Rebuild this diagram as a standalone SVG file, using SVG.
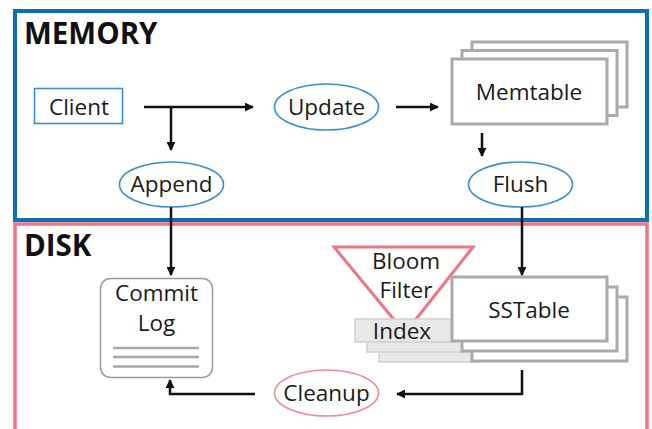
<svg xmlns="http://www.w3.org/2000/svg" width="652" height="429" viewBox="0 0 652 429">
<defs>
<marker id="ah" viewBox="0 0 10 10" refX="9" refY="5" markerWidth="9" markerHeight="9" markerUnits="userSpaceOnUse" orient="auto">
<path d="M0,0 L10,5 L0,10 z" fill="#111"/>
</marker>
<style>
.lbl{font-family:"Open Sans","Liberation Sans",sans-serif;font-size:22.5px;fill:#1a1a1a;text-anchor:middle}
.ttl{font-family:"Open Sans","Liberation Sans",sans-serif;font-size:29.5px;font-weight:bold;fill:#111}
.ell{fill:#fff;stroke:#3a8fd0;stroke-width:1.6}
.ellp{fill:#fff;stroke:#f08a96;stroke-width:1.6}
.tbl{fill:#fff;stroke:#aaaaaa;stroke-width:3}
.idx{fill:#e8e8e8;stroke:#cfcfcf;stroke-width:1.5}
.conn{fill:none;stroke:#111;stroke-width:2.5;marker-end:url(#ah)}
</style>
</defs>
<rect width="652" height="429" fill="#fff"/>
<g id="memory">
<rect x="15" y="11" width="632" height="209" fill="none" stroke="#0b6fb8" stroke-width="4"/>
<text class="ttl" x="24" y="44">MEMORY</text>
</g>
<g id="disk">
<rect x="15" y="224" width="632" height="220" fill="none" stroke="#f07583" stroke-width="3.5"/>
<text class="ttl" x="24" y="256">DISK</text>
</g>
<g id="client">
<rect x="34.5" y="88.5" width="88" height="35" fill="#fff" stroke="#3a8fd0" stroke-width="1.6"/>
<text class="lbl" x="79" y="114.5">Client</text>
</g>
<g id="update">
<ellipse class="ell" cx="326.5" cy="107" rx="52" ry="23"/>
<text class="lbl" x="326.5" y="114.5">Update</text>
</g>
<g id="append">
<ellipse class="ell" cx="171.5" cy="184.5" rx="52" ry="22.5"/>
<text class="lbl" x="171.5" y="192">Append</text>
</g>
<g id="flush">
<ellipse class="ell" cx="520.5" cy="184.5" rx="52" ry="22.5"/>
<text class="lbl" x="520.5" y="192">Flush</text>
</g>
<g id="memtable">
<rect class="tbl" x="472" y="42" width="155" height="65"/>
<rect class="tbl" x="462" y="50.5" width="155" height="65"/>
<rect class="tbl" x="452" y="59" width="155" height="65"/>
<text class="lbl" x="529" y="99.5">Memtable</text>
</g>
<g id="commitlog">
<rect x="100.5" y="278.5" width="112" height="99" rx="10" fill="#fff" stroke="#9a9a9a" stroke-width="1.5"/>
<text class="lbl" x="156.5" y="300.5">Commit</text>
<text class="lbl" x="156.5" y="330.5">Log</text>
<g stroke="#aaaaaa" stroke-width="2.5">
<line x1="113" y1="348" x2="199" y2="348"/>
<line x1="113" y1="357" x2="199" y2="357"/>
<line x1="113" y1="366.5" x2="199" y2="366.5"/>
</g>
</g>
<g id="bloomfilter">
<path d="M334,247 L473,247 L405,333 z" fill="#fff" stroke="#f07583" stroke-width="3"/>
<text class="lbl" x="406" y="268.5">Bloom</text>
<text class="lbl" x="406" y="297.5">Filter</text>
</g>
<g id="sstable">
<rect class="idx" x="379" y="339" width="100" height="23"/>
<rect class="tbl" x="472" y="297" width="155" height="64"/>
<rect class="idx" x="367" y="329" width="100" height="23"/>
<rect class="tbl" x="462" y="287" width="155" height="64"/>
<rect class="idx" x="355" y="319" width="100" height="23"/>
<text class="lbl" x="402" y="338.5">Index</text>
<rect class="tbl" x="452" y="277" width="155" height="64"/>
<text class="lbl" x="529" y="317.5">SSTable</text>
</g>
<g id="cleanup">
<ellipse class="ellp" cx="326.5" cy="393" rx="52" ry="23"/>
<text class="lbl" x="326.5" y="400.5">Cleanup</text>
</g>
<g id="connectors">
<path class="conn" d="M144,107 L253,107"/>
<path class="conn" d="M171,107 L171,150"/>
<path class="conn" d="M396,107 L438,107"/>
<path class="conn" d="M482,133 L482,156"/>
<path class="conn" d="M171,207 L171,275"/>
<path class="conn" d="M522,207 L522,275"/>
<path class="conn" d="M522,370 L522,394 L397,394"/>
<path class="conn" d="M255,394 L170,394 L170,380"/>
</g>
</svg>
